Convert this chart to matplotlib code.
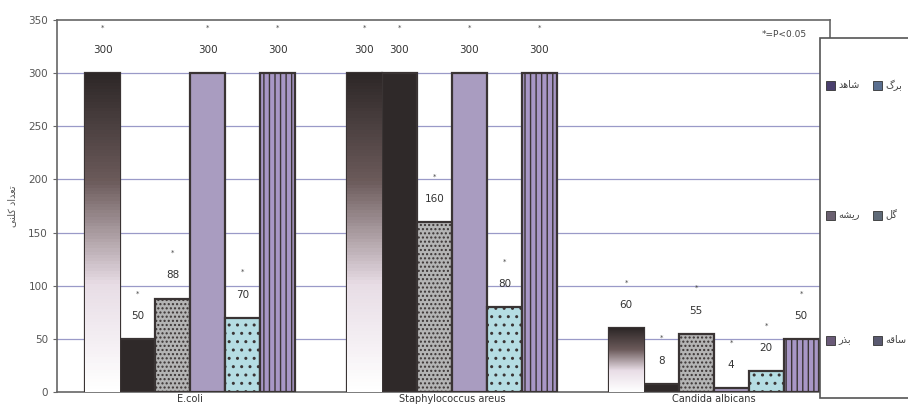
import numpy as np
import matplotlib
matplotlib.use("Agg")
import matplotlib.pyplot as plt
from matplotlib.patches import Rectangle

# ---- data ----
groups = ["E.coli", "Staphylococcus areus", "Candida albicans"]
# Persian legend labels (Arabic presentation forms, visual order)
series_names = [
    "\uFEAA\uFEEB\uFE8E\uFEB7",        # شاهد
    "\uFB92\uFEAE\uFE91",              # برگ
    "\uFEEA\uFEB8\uFBFE\uFEAD",        # ریشه
    "\uFEDE\uFB94",                    # گل
    "\uFEAD\uFEAC\uFE91",              # بذر
    "\uFEEA\uFED7\uFE8E\uFEB3",        # ساقه
]
values = [
    [300, 300, 60],
    [50, 300, 8],
    [88, 160, 55],
    [300, 300, 4],
    [70, 80, 20],
    [300, 300, 50],
]
yticks = [0, 50, 100, 150, 200, 250, 300, 350]
ylabel = "\uFBFD\uFEE8\uFEE0\uFB90 \uFEA9\uFE8D\uFEAA\uFECC\uFE97"  # تعداد کلنی
note = "*=P<0.05"

colors = ["#3b3434", "#2f2929", "#b4b4b4", "#a99cc0", "#b5dde3", "#a897c6"]
hatches = [None, None, "....", None, "..", "|||"]
swatch_cols = ["#4a3f6e", "#5a6f90", "#6a6070", "#5f6a78", "#6a5a78", "#5a5a70"]

plt.rcParams['font.family'] = ['DejaVu Sans']
fig = plt.figure(figsize=(9.08, 4.08), dpi=100)
ax = fig.add_axes([0.0628, 0.039, 0.851, 0.912])

x = np.arange(len(groups))
w = 0.1336
n = len(values)
for i in range(n):
    pos = x + (i - (n - 1) / 2) * w
    bars = ax.bar(pos, values[i], width=w, color=colors[i], edgecolor="#3a3434",
                  linewidth=1.6, hatch=hatches[i], zorder=3)
    if i == 0:
        for b in bars:
            grad = np.linspace(0, 1, 100).reshape(-1, 1)
            im = ax.imshow(grad, cmap=matplotlib.colors.LinearSegmentedColormap.from_list(
                "g", ["#ffffff", "#e8dde6", "#6b5a5a", "#2e2828"]),
                extent=[b.get_x(), b.get_x() + b.get_width(), 0, b.get_height()],
                origin="lower", aspect="auto", zorder=3.5)
            im.set_clip_path(b)
    for xp, v in zip(pos, values[i]):
        ax.text(xp, v + 17, str(v), ha="center", va="bottom", fontsize=7.5, color="#333333", zorder=5)
        ax.text(xp, v + 40, "*", ha="center", va="bottom", fontsize=5, color="#444444", zorder=5)

ax.set_xlim(-0.508, 2.443)
ax.set_ylim(0, 350)
ax.set_yticks(yticks)
ax.set_yticklabels([str(t) for t in yticks], fontsize=7.5, color="#555555")
ax.set_xticks(x)
ax.set_xticklabels(groups, fontsize=7, color="#333333")
ax.tick_params(axis="x", length=0, pad=1.5)
ax.tick_params(axis="y", length=3, color="#666666")
for t in yticks[1:-1]:
    ax.axhline(t, color="#9a9ac8", linewidth=0.9, zorder=1)
for s in ax.spines.values():
    s.set_color("#666666")
    s.set_linewidth(1.2)
ax.set_ylabel(ylabel, fontsize=7, color="#555555", labelpad=8)
ax.text(2.27, 336, note, fontsize=6.5, color="#444444", ha="center", va="center")

# legend box (manual, figure coords)
lb = Rectangle((820 / 908, 10 / 408), 0.2, 360 / 408, transform=fig.transFigure,
               facecolor="white", edgecolor="#555555", linewidth=1.2, zorder=10)
fig.patches.append(lb)
rows_y = [1 - 85 / 408, 1 - 215 / 408, 1 - 340 / 408]
cols_x = [826 / 908, 873 / 908]
order = [(0, 0, 0), (1, 0, 1), (2, 1, 0), (3, 1, 1), (4, 2, 0), (5, 2, 1)]
for si, r, c in order:
    fig.patches.append(Rectangle((cols_x[c], rows_y[r] - 0.012), 9 / 908, 9 / 408,
                                 transform=fig.transFigure, facecolor=swatch_cols[si],
                                 edgecolor="#333333", linewidth=0.6, zorder=11))
    fig.text(cols_x[c] + 12 / 908, rows_y[r], series_names[si], fontsize=7,
             color="#444444", va="center", ha="left", zorder=12)

fig.savefig("out.png", dpi=100)
